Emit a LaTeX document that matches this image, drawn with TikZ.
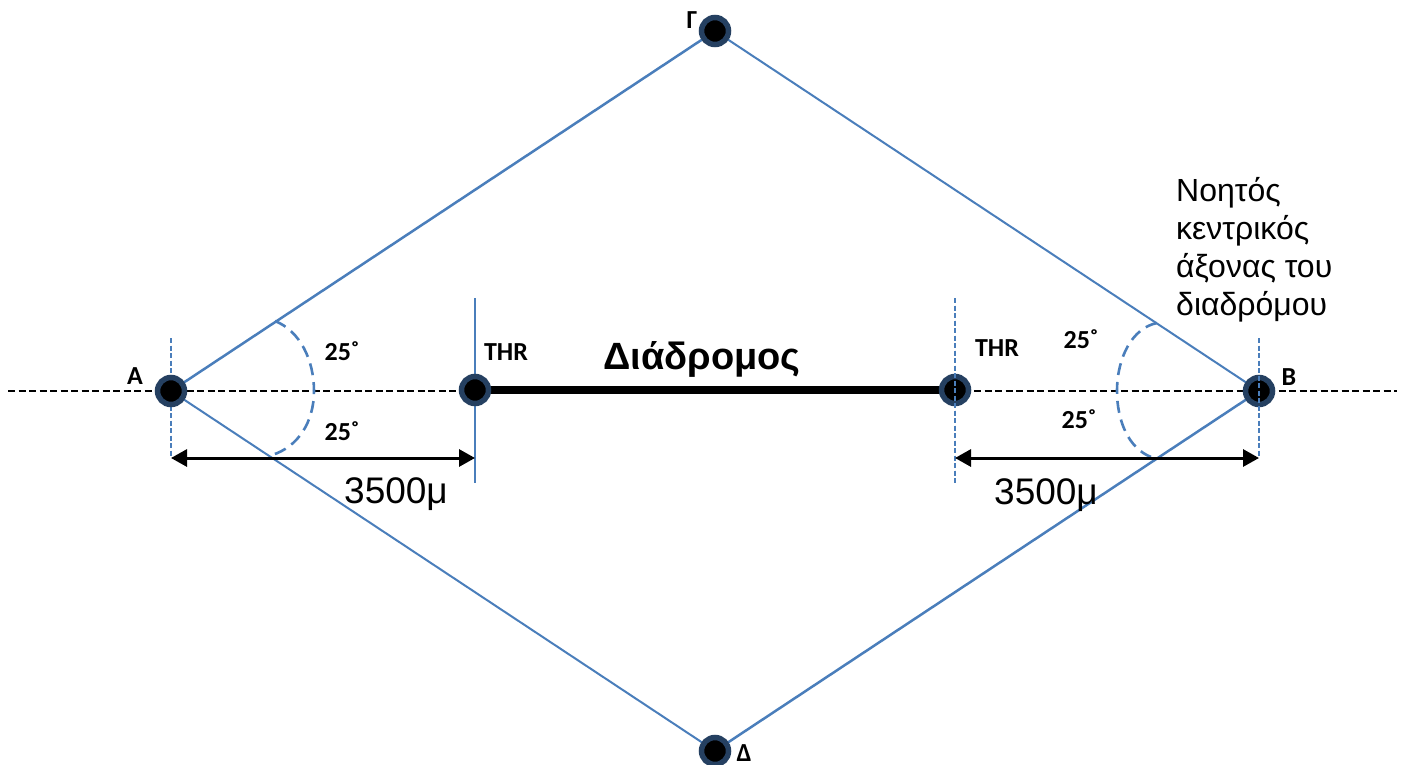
\documentclass[tikz,border=0pt]{standalone}
\usepackage{fontspec}
\setmainfont{Liberation Sans}
\newfontfamily\calib{Carlito}
\usetikzlibrary{arrows.meta}
\definecolor{lineblue}{HTML}{4A7EBB}
\definecolor{ringblue}{HTML}{254061}
\tikzset{
 x=1pt,y=-1pt,
 dot/.style={circle,fill=black,draw=ringblue,line width=5.5pt,minimum size=27pt,inner sep=0pt},
 side/.style={draw=lineblue,line width=2.5pt},
 thinside/.style={draw=lineblue,line width=2pt},
 tick/.style={draw=lineblue,line width=1.6pt,dash pattern=on 5pt off 2.5pt},
 solidtick/.style={draw=lineblue,line width=2pt},
 arcline/.style={draw=lineblue,line width=2.6pt,dash pattern=on 12pt off 7pt},
 axis/.style={draw=black,line width=2.6pt,dash pattern=on 7pt off 3.5pt},
 dim/.style={draw=black,line width=3pt,{Triangle[length=16pt,width=17pt]}-{Triangle[length=16pt,width=17pt]}},
 lab/.style={font=\calib\fontsize{26}{30}\bfseries\selectfont,inner sep=0pt,anchor=base},
 big/.style={font=\fontsize{37}{41}\selectfont,inner sep=0pt,anchor=base}
}
\begin{document}
\begin{tikzpicture}
\useasboundingbox (0,0) rectangle (1407,765);
% named points
\coordinate (L) at (8,391);
\coordinate (R) at (1397,391);
\coordinate (at) at (171,338);
\coordinate (ab) at (171,456);
\coordinate (bt) at (1259,338);
\coordinate (bb) at (1259,456);
\coordinate (t1t) at (475,298);
\coordinate (t1b) at (475,483);
\coordinate (t2t) at (955,298);
\coordinate (t2b) at (955,483);
\coordinate (d1l) at (171,458);
\coordinate (d1r) at (475,458);
\coordinate (d2l) at (955,458);
\coordinate (d2r) at (1259,458);
\coordinate (A) at (171,391);
\coordinate (B) at (1259,391);
\coordinate (T1) at (475,390);
\coordinate (T2) at (955,390);
\coordinate (G) at (715,31);
\coordinate (D) at (715,751);
% lines under the dots
\draw[side] (A) -- (G);
\draw[thinside] (A) -- (D);
\draw[thinside] (G) -- (B);
\draw[side] (D) -- (B);
\draw[axis] (L) -- (R);
\draw[draw=black,line width=7.5pt] (T1) -- (T2);
\draw[solidtick] (t1t) -- (t1b);
\draw[tick] (at) -- (ab);
\draw[tick] (t2t) -- (t2b);
% angle arcs
\draw[arcline] (275,321) .. controls (300,331) and (314,360) .. (314,391)
   .. controls (314,422) and (298,447) .. (272,455);
\draw[arcline] (1157,323) .. controls (1132,328) and (1117,358) .. (1117,391)
   .. controls (1117,420) and (1128,448) .. (1151,457);
% dots
\node[dot] (nA) at (A) {};
\node[dot] (nG) at (G) {};
\node[dot] (nD) at (D) {};
\node[dot] (nT1) at (T1) {};
\node[dot] (nT2) at (T2) {};
\node[dot] (nB) at (B) {};
% ticks drawn over the right-hand dots
\draw[tick] (t2t) -- (t2b);
\draw[tick] (bt) -- (bb);
% dimensions
\draw[dim] (d1l) -- (d1r);
\draw[dim] (d2l) -- (d2r);
% labels
\node[lab] (la) at (135,384) {Α};
\node[lab] (lb) at (1289,385) {Β};
\node[lab] (lg) at (692,29) {Γ};
\node[lab] (ld) at (744,761) {Δ};
\node[lab] (th1) at (506,360) {THR};
\node[lab] (th2) at (997,356) {THR};
\node[lab] (a1) at (342,360) {25˚};
\node[lab] (a2) at (342,440) {25˚};
\node[lab] (a3) at (1081,348) {25˚};
\node[lab] (a4) at (1079,428) {25˚};
\node[big,font=\fontsize{38}{42}\bfseries\selectfont] (run) at (702,369) {Διάδρομος};
\node[big] (d1) at (396,503) {3500μ};
\node[big] (d2) at (1046,504) {3500μ};
\node[font=\fontsize{32}{38}\selectfont,inner sep=0pt,anchor=north west,align=left] (cap) at (1176,177)
  {Νοητός\\κεντρικός\\άξονας του\\διαδρόμου};
\end{tikzpicture}
\end{document}
